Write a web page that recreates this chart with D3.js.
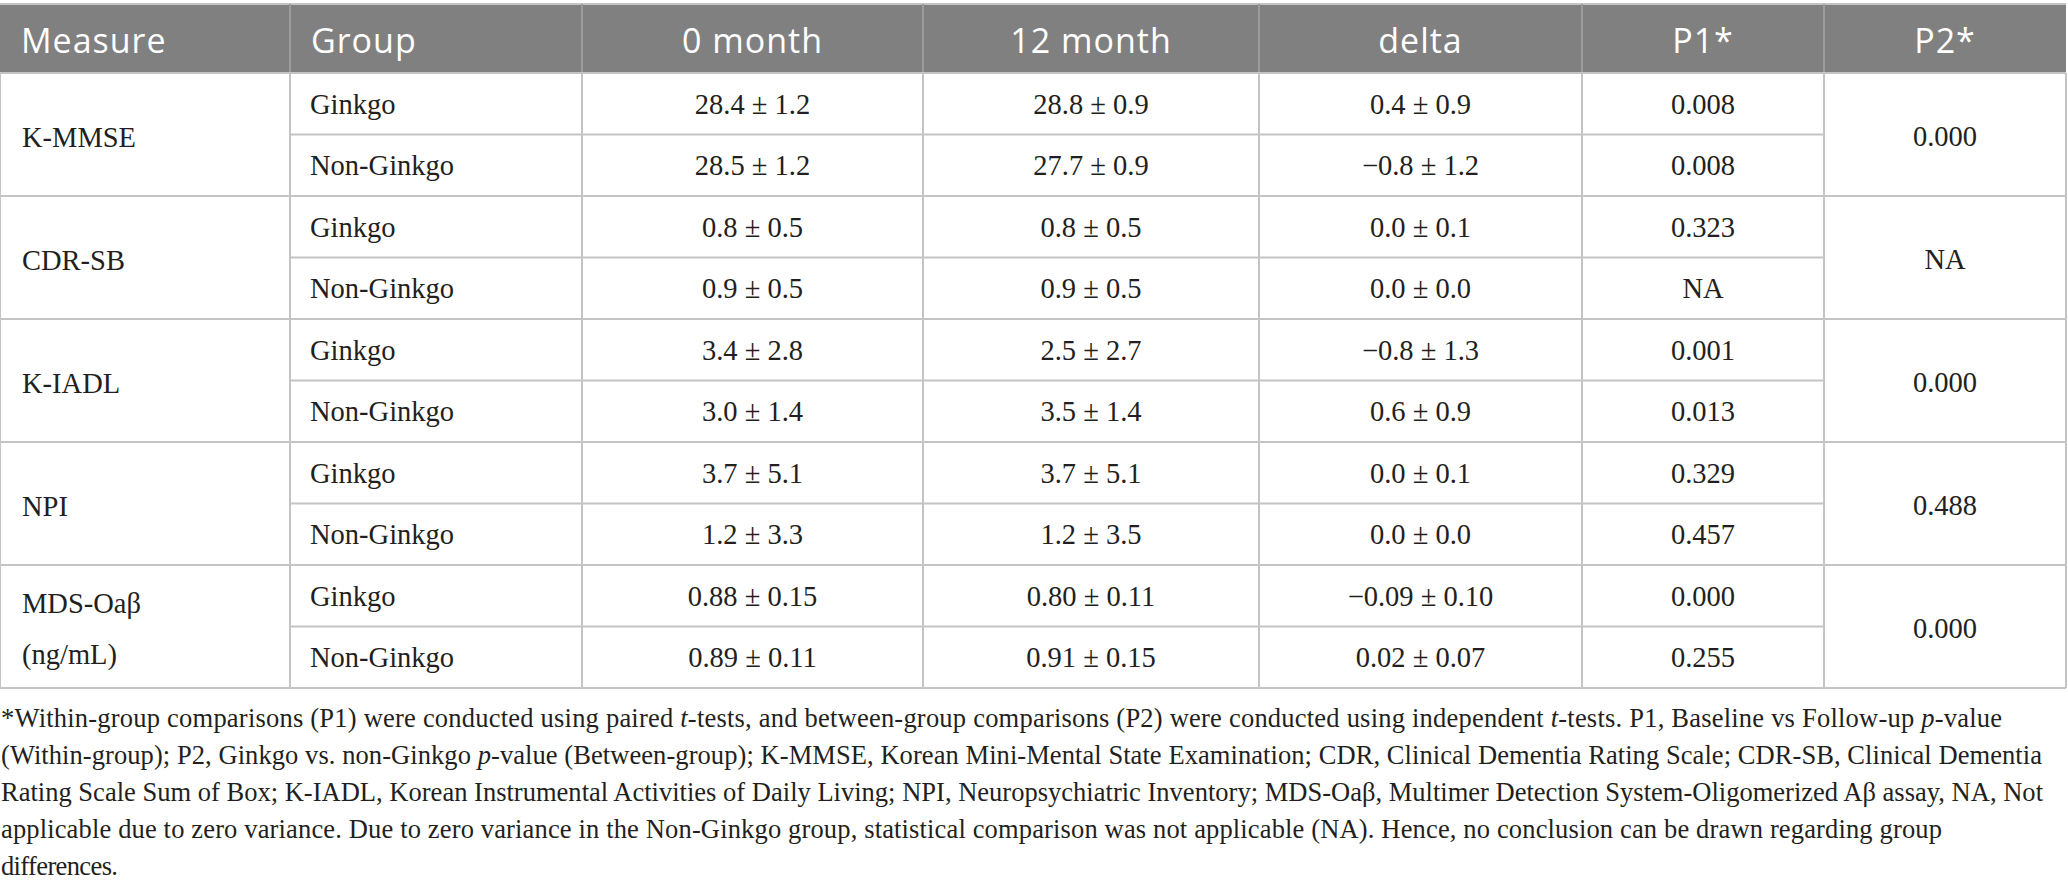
<!DOCTYPE html>
<html><head><meta charset="utf-8">
<script src="https://cdn.jsdelivr.net/npm/d3@7"></script>
<style>html,body{margin:0;padding:0;background:#fff;}svg{display:block;}</style>
</head><body>
<script>
// ---- data ----
const columns = ["Measure","Group","0 month","12 month","delta","P1*","P2*"];
const measureLines = [["K-MMSE"],["CDR-SB"],["K-IADL"],["NPI"],["MDS-Oaβ","(ng/mL)"]];
const groups = ["Ginkgo","Non-Ginkgo"];
const month0 = ["28.4 ± 1.2","28.5 ± 1.2","0.8 ± 0.5","0.9 ± 0.5","3.4 ± 2.8","3.0 ± 1.4","3.7 ± 5.1","1.2 ± 3.3","0.88 ± 0.15","0.89 ± 0.11"];
const month12 = ["28.8 ± 0.9","27.7 ± 0.9","0.8 ± 0.5","0.9 ± 0.5","2.5 ± 2.7","3.5 ± 1.4","3.7 ± 5.1","1.2 ± 3.5","0.80 ± 0.11","0.91 ± 0.15"];
const delta = ["0.4 ± 0.9","−0.8 ± 1.2","0.0 ± 0.1","0.0 ± 0.0","−0.8 ± 1.3","0.6 ± 0.9","0.0 ± 0.1","0.0 ± 0.0","−0.09 ± 0.10","0.02 ± 0.07"];
const p1 = ["0.008","0.008","0.323","NA","0.001","0.013","0.329","0.457","0.000","0.255"];
const p2 = ["0.000","NA","0.000","0.488","0.000"];
const footnote = [
  [["*Within-group comparisons (P1) were conducted using paired ",0],["t",1],["-tests, and between-group comparisons (P2) were conducted using independent ",0],["t",1],["-tests. P1, Baseline vs Follow-up ",0],["p",1],["-value",0]],
  [["(Within-group); P2, Ginkgo vs. non-Ginkgo ",0],["p",1],["-value (Between-group); K-MMSE, Korean Mini-Mental State Examination; CDR, Clinical Dementia Rating Scale; CDR-SB, Clinical Dementia",0]],
  [["Rating Scale Sum of Box; K-IADL, Korean Instrumental Activities of Daily Living; NPI, Neuropsychiatric Inventory; MDS-Oaβ, Multimer Detection System-Oligomerized Aβ assay, NA, Not",0]],
  [["applicable due to zero variance. Due to zero variance in the Non-Ginkgo group, statistical comparison was not applicable (NA). Hence, no conclusion can be drawn regarding group",0]],
  [["differences.",0]]
];

// ---- layout ----
const W = 2068, H = 891;
const colEdges = [0, 290, 582, 923, 1259, 1582, 1824, 2066];
const headTop = 4, headBottom = 73, tableBottom = 688;
const nRows = month0.length;
const serif = "'Liberation Serif','Times New Roman',serif";
const sans = "'Open Sans','Noto Sans',sans-serif";
const ink = "#231f20";
const lineCol = "#c4c4c4";

const svg = d3.select("body").append("svg").attr("width", W).attr("height", H);

const y = d3.scaleLinear().domain([0, nRows]).range([headBottom, tableBottom]);
const colX = d3.scaleOrdinal().domain(d3.range(columns.length)).range(colEdges.slice(0,-1));
const colW = i => colEdges[i+1] - colEdges[i];
const colC = i => colX(i) + colW(i)/2;

// header
svg.append("rect").attr("x", colEdges[0]).attr("y", headTop)
  .attr("width", colEdges[colEdges.length-1]-colEdges[0]).attr("height", headBottom-headTop)
  .attr("fill", "#808080");
svg.append("line").attr("x1", colEdges[0]).attr("x2", colEdges[colEdges.length-1])
  .attr("y1", headTop).attr("y2", headTop).attr("stroke", lineCol).attr("stroke-width", 2);
svg.selectAll("line.hsep").data(colEdges.slice(1,-1)).join("line").attr("class","hsep")
  .attr("x1", d=>d).attr("x2", d=>d).attr("y1", headTop).attr("y2", headBottom)
  .attr("stroke", "#9c9c9c").attr("stroke-width", 2);
svg.selectAll("text.head").data(columns).join("text").attr("class","head")
  .attr("x", (d,i) => i < 2 ? colX(i) + 21 : colC(i))
  .attr("y", 53)
  .attr("text-anchor", (d,i) => i < 2 ? "start" : "middle")
  .attr("font-family", sans).attr("font-size", 34).attr("letter-spacing", 1).attr("fill", "#fff")
  .text(d => d);

// grid lines
const g = svg.append("g").attr("stroke", lineCol).attr("stroke-width", 2);
d3.range(nRows+1).forEach(r => {
  const full = r % 2 === 0;
  g.append("line")
    .attr("x1", full ? colEdges[0] : colEdges[1])
    .attr("x2", full ? colEdges[colEdges.length-1] : colEdges[6])
    .attr("y1", y(r)).attr("y2", y(r));
});
colEdges.forEach(x => {
  g.append("line").attr("x1", x).attr("x2", x).attr("y1", headBottom).attr("y2", tableBottom);
});

// body text
const fs = 28.5;
const base = 10;
const body = svg.append("g").attr("font-family", serif).attr("font-size", fs).attr("fill", ink);
// measures (merged)
measureLines.forEach((lines, m) => {
  const cy = y(2*m + 1);
  const lh = 51;
  lines.forEach((t, k) => {
    body.append("text").attr("x", colX(0) + 22)
      .attr("y", cy + (k - (lines.length-1)/2) * lh + 12).text(t);
  });
});
// groups
body.selectAll("text.grp").data(d3.range(nRows)).join("text").attr("class","grp")
  .attr("x", colX(1) + 20).attr("y", r => (y(r)+y(r+1))/2 + base)
  .text(r => groups[r % 2]);
// value columns
[month0, month12, delta, p1].forEach((arr, k) => {
  const ci = k + 2;
  body.selectAll("text.v"+ci).data(arr).join("text").attr("class","v"+ci)
    .attr("x", colC(ci)).attr("text-anchor","middle")
    .attr("y", (d,r) => (y(r)+y(r+1))/2 + base).text(d => d);
});
// P2 merged
body.selectAll("text.p2").data(p2).join("text").attr("class","p2")
  .attr("x", colC(6)).attr("text-anchor","middle")
  .attr("y", (d,m) => y(2*m+1) + base + 1).text(d => d);

// footnote (ragged right; each line's end)
const fnY0 = 727, fnLH = 37, fnLeft = 1;
const fnEnds = [2002, 2042, 2043, 1942, 118];
const fn = svg.append("g").attr("font-family", serif).attr("font-size", 28).attr("fill", ink);
const fnTexts = footnote.map((segs, li) => {
  const t = fn.append("text").attr("x", fnLeft).attr("y", fnY0 + li*fnLH);
  segs.forEach(([s, it]) => {
    t.append("tspan").attr("font-style", it ? "italic" : "normal").text(s);
  });
  return t;
});
const natural = fnTexts.map(t => t.node().getComputedTextLength());
const sx = (fnEnds[2] - fnLeft) / natural[2];
fn.attr("transform", `translate(${fnLeft*(1-sx)},0) scale(${sx},1)`);
fnTexts.forEach((t, i) => {
  t.attr("textLength", (fnEnds[i] - fnLeft)/sx).attr("lengthAdjust", "spacing");
});
</script>
</body></html>
